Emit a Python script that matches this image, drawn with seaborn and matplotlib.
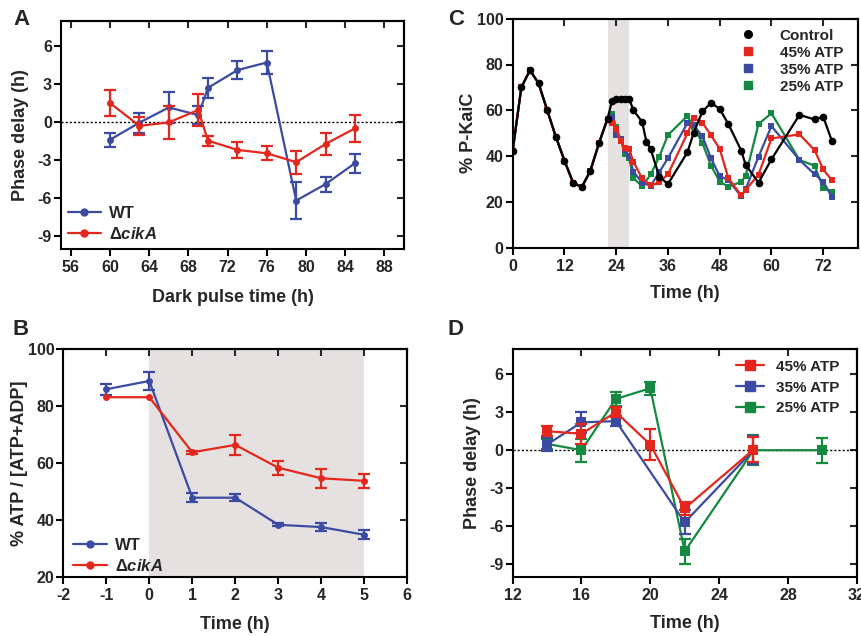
import numpy as np
import pandas as pd
import matplotlib
matplotlib.use('Agg')
import matplotlib.pyplot as plt
from matplotlib.lines import Line2D
import seaborn as sns

sns.set_style('ticks')
plt.rcParams['font.family'] = ['Liberation Sans', 'DejaVu Sans']
plt.rcParams['font.weight'] = 'bold'
plt.rcParams['axes.labelweight'] = 'bold'
plt.rcParams['axes.unicode_minus'] = False
plt.rcParams['mathtext.fontset'] = 'custom'
plt.rcParams['mathtext.rm'] = 'Liberation Sans:bold'
plt.rcParams['mathtext.it'] = 'Liberation Sans:italic:bold'
plt.rcParams['mathtext.bf'] = 'Liberation Sans:bold'

BLUE = '#3c4ba2'
RED = '#e3271d'
GREEN = '#14893f'
SHADE = '#e5e1e1'
LW = 1.6

# ---- panel A: phase delay vs dark pulse time
a_time = [60, 63, 66, 69, 70, 73, 76, 79, 82, 85]
a_wt = [-1.4, -0.05, 1.15, 0.55, 2.7, 4.1, 4.7, -6.2, -4.9, -3.25]
a_wt_err = [0.55, 0.8, 1.2, 0.7, 0.8, 0.7, 0.9, 1.45, 0.6, 0.75]
a_cika = [1.5, -0.3, -0.03, 0.95, -1.47, -2.2, -2.47, -3.17, -1.73, -0.5]
a_cika_err = [1.0, 0.7, 1.3, 1.3, 0.4, 0.6, 0.55, 0.9, 0.9, 1.05]

# ---- panel B: ATP fraction
b_time = [-1, 0, 1, 2, 3, 4, 5]
b_wt = [85.9, 88.8, 47.9, 47.9, 38.4, 37.6, 34.9]
b_wt_err = [2.0, 3.2, 1.6, 1.3, 0.5, 1.5, 1.5]
b_cika = [83.1, 83.1, 63.8, 66.4, 58.4, 54.7, 53.8]
b_cika_err = [np.nan, np.nan, 0.5, 3.4, 2.5, 3.3, 2.5]

# ---- panel C: % P-KaiC time course
c_ctrl_time = [0, 2, 4, 6, 8, 10, 12, 14, 16, 18, 20, 22, 23, 24, 25, 26, 27, 28,
               30, 31, 32, 34, 36, 40.5, 42, 44, 46, 48, 50, 53, 54, 57, 60, 66.5,
               70, 72, 74]
c_ctrl = [42.4, 70.0, 77.5, 71.8, 60.0, 48.5, 38.0, 28.4, 26.4, 33.5, 45.6, 56.4,
          63.9, 64.8, 64.8, 65.0, 65.0, 60.0, 55.0, 46.3, 43.0, 31.0, 27.8, 41.6,
          50.3, 59.5, 63.3, 60.6, 54.0, 42.4, 36.3, 28.4, 38.6, 58.0, 56.0, 57.2,
          46.7]
c_atp_time = [0, 2, 4, 6, 8, 10, 12, 14, 16, 18, 20, 22, 23, 24, 25, 26, 27, 28,
              30, 32, 34, 36, 40.5, 42, 44, 46, 48, 50, 53, 54, 57, 60, 66.5, 70,
              72, 74]
c_atp45 = [42.4, 70.0, 77.5, 71.8, 60.0, 48.5, 38.0, 28.4, 26.4, 33.5, 45.6, 56.4,
           54.5, 51.8, 46.8, 43.5, 43.0, 37.5, 30.3, 27.2, 28.5, 32.1, 49.9, 56.5,
           54.6, 49.0, 43.2, 30.4, 22.8, 25.2, 31.9, 47.7, 49.5, 42.6, 34.2, 29.5]
c_atp35 = [42.4, 70.0, 77.5, 71.8, 60.0, 48.5, 38.0, 28.4, 26.4, 33.5, 45.6, 56.4,
           57.0, 49.0, 47.5, 42.5, 40.0, 33.2, 28.4, 27.0, 33.0, 39.1, 54.4, 53.5,
           48.6, 39.0, 31.3, 29.5, 22.4, 25.5, 39.7, 53.1, 38.3, 32.1, 28.9, 22.2]
c_atp25 = [42.4, 70.0, 77.5, 71.8, 60.0, 48.5, 38.0, 28.4, 26.4, 33.5, 45.6, 56.4,
           58.4, 52.5, 47.5, 41.0, 39.0, 30.4, 26.8, 32.0, 39.8, 49.2, 57.5, 52.5,
           45.6, 35.8, 28.9, 26.6, 28.8, 31.3, 54.0, 58.7, 38.3, 35.8, 26.0, 24.4]

# ---- panel D: phase delay vs time for ATP levels
d_time45 = [14, 16, 18, 20, 22, 26]
d_atp45 = [1.5, 1.3, 3.0, 0.45, -4.6, 0.05]
d_atp45_err = [0.4, 0.8, 0.4, 1.2, 0.5, 1.0]
d_time35 = [14, 16, 18, 22, 26]
d_atp35 = [0.45, 2.2, 2.3, -5.7, 0.0]
d_atp35_err = [0.5, 0.85, 0.4, 0.95, 1.1]
d_time25 = [14, 16, 18, 20, 22, 26, 30]
d_atp25 = [0.5, 0.0, 4.05, 4.9, -8.0, 0.0, 0.0]
d_atp25_err = [0.4, 0.9, 0.55, 0.5, 1.0, 1.2, 1.0]

cika_label = 'Δ$\\mathit{cikA}$'

fig = plt.figure(figsize=(8.62, 6.36), dpi=100)
W, H = 862.0, 636.0
LAB = 13


def rect(l, t, r, b):
    return [l / W, 1 - b / H, (r - l) / W, (b - t) / H]


def style_ax(ax, xt, yt):
    for s in ax.spines.values():
        s.set_visible(True)
        s.set_linewidth(1.5)
        s.set_color('black')
    ax.set_xticks(xt)
    ax.set_yticks(yt)
    ax.tick_params(axis='both', direction='out', length=5, width=1.5,
                   labelsize=11.5, color='black')
    ax.tick_params(axis='x', pad=3)
    ax.tick_params(axis='y', pad=1.5)
    sx = ax.secondary_xaxis('top')
    sx.set_xticks(xt)
    sx.tick_params(direction='in', length=5, width=1.5, labeltop=False)
    sx.spines['top'].set_linewidth(1.5)
    sy = ax.secondary_yaxis('right')
    sy.set_yticks(yt)
    sy.tick_params(direction='in', length=5, width=1.5, labelright=False)
    sy.spines['right'].set_linewidth(1.5)
    for lab in ax.get_xticklabels() + ax.get_yticklabels():
        lab.set_fontweight('bold')


def series(ax, x, y, err, color, marker, ms):
    sns.lineplot(x=x, y=y, ax=ax, color=color, marker=marker, markersize=ms,
                 markeredgewidth=0, linewidth=LW, legend=False, zorder=3)
    if err is not None:
        ax.errorbar(x, y, yerr=err, fmt='none', ecolor=color, elinewidth=LW,
                    capsize=4, capthick=LW, zorder=3)


# ===== A
axA = fig.add_axes(rect(61, 20.7, 404, 248.7))
axA.axhline(0, color='black', lw=1, ls=(0, (1.5, 1.5)), zorder=1)
series(axA, a_time, a_wt, a_wt_err, BLUE, 'o', 5)
series(axA, a_time, a_cika, a_cika_err, RED, 'o', 5)
axA.set_xlim(55, 90)
axA.set_ylim(-10, 8)
style_ax(axA, np.arange(56, 89, 4), np.arange(-9, 7, 3))
axA.set_xlabel('Dark pulse time (h)', fontsize=LAB, labelpad=10)
axA.set_ylabel('Phase delay (h)', fontsize=LAB, labelpad=6)
hA = [Line2D([], [], color=BLUE, marker='o', ms=5, lw=LW),
      Line2D([], [], color=RED, marker='o', ms=5, lw=LW)]
axA.legend(hA, ['WT', cika_label], loc='lower left', frameon=False,
           fontsize=12, handlelength=2.0, handletextpad=0.5,
           borderaxespad=0.0, labelspacing=0.3)

# ===== B
axB = fig.add_axes(rect(63.3, 349, 407.3, 577.3))
axB.axvspan(0, 5, color=SHADE, lw=0, zorder=0)
series(axB, b_time, b_wt, b_wt_err, BLUE, 'o', 5)
series(axB, b_time, b_cika, b_cika_err, RED, 'o', 5)
axB.set_xlim(-2, 6)
axB.set_ylim(20, 100)
style_ax(axB, np.arange(-2, 7, 1), np.arange(20, 101, 20))
axB.set_xlabel('Time (h)', fontsize=LAB, labelpad=9)
axB.set_ylabel('% ATP / [ATP+ADP]', fontsize=LAB, labelpad=0)
axB.legend(hA, ['WT', cika_label], loc='lower left', frameon=False,
           fontsize=12, handlelength=2.0, handletextpad=0.5,
           borderaxespad=0.0, labelspacing=0.3,
           bbox_to_anchor=(0.01, -0.015))

# ===== C
axC = fig.add_axes(rect(512.7, 18.7, 857.7, 247.7))
axC.axvspan(22, 27, color=SHADE, lw=0, zorder=0)
series(axC, c_atp_time, c_atp25, None, GREEN, 's', 5)
series(axC, c_atp_time, c_atp35, None, BLUE, 's', 5)
series(axC, c_atp_time, c_atp45, None, RED, 's', 5)
series(axC, c_ctrl_time, c_ctrl, None, 'black', 'o', 5.5)
axC.set_xlim(0, 80)
axC.set_ylim(0, 100)
style_ax(axC, np.arange(0, 73, 12), np.arange(0, 101, 20))
axC.set_xlabel('Time (h)', fontsize=LAB, labelpad=8)
axC.set_ylabel('% P-KaiC', fontsize=LAB, labelpad=0)
hC = [Line2D([], [], color='black', marker='o', ms=5.5, ls='none'),
      Line2D([], [], color=RED, marker='s', ms=5.5, ls='none'),
      Line2D([], [], color=BLUE, marker='s', ms=5.5, ls='none'),
      Line2D([], [], color=GREEN, marker='s', ms=5.5, ls='none')]
axC.legend(hC, ['Control', '45% ATP', '35% ATP', '25% ATP'], loc='upper right',
           frameon=False, fontsize=11, handlelength=1.2, handletextpad=1.5,
           borderaxespad=0.1, labelspacing=0.2, bbox_to_anchor=(0.98, 0.99))

# ===== D
axD = fig.add_axes(rect(512.7, 349, 856.7, 576.7))
axD.axhline(0, color='black', lw=1, ls=(0, (1.5, 1.5)), zorder=1)
series(axD, d_time25, d_atp25, d_atp25_err, GREEN, 's', 7)
series(axD, d_time35, d_atp35, d_atp35_err, BLUE, 's', 7)
series(axD, d_time45, d_atp45, d_atp45_err, RED, 's', 7)
axD.set_xlim(12, 32)
axD.set_ylim(-10, 8)
style_ax(axD, np.arange(12, 33, 4), np.arange(-9, 7, 3))
axD.set_xlabel('Time (h)', fontsize=LAB, labelpad=9)
axD.set_ylabel('Phase delay (h)', fontsize=LAB, labelpad=6)
hD = [Line2D([], [], color=RED, marker='s', ms=7, lw=LW),
      Line2D([], [], color=BLUE, marker='s', ms=7, lw=LW),
      Line2D([], [], color=GREEN, marker='s', ms=7, lw=LW)]
axD.legend(hD, ['45% ATP', '35% ATP', '25% ATP'], loc='upper right',
           frameon=False, fontsize=11, handlelength=1.8, handletextpad=0.8,
           borderaxespad=0.3, labelspacing=0.45, bbox_to_anchor=(0.98, 1.0))

# panel letters
for letter, x, y in [('A', 13, 9), ('B', 13, 319), ('C', 448, 9), ('D', 448, 319)]:
    fig.text(x / W, 1 - y / H, letter, fontsize=16, fontweight='bold',
             ha='left', va='top')

fig.savefig('out.png', dpi=100)
